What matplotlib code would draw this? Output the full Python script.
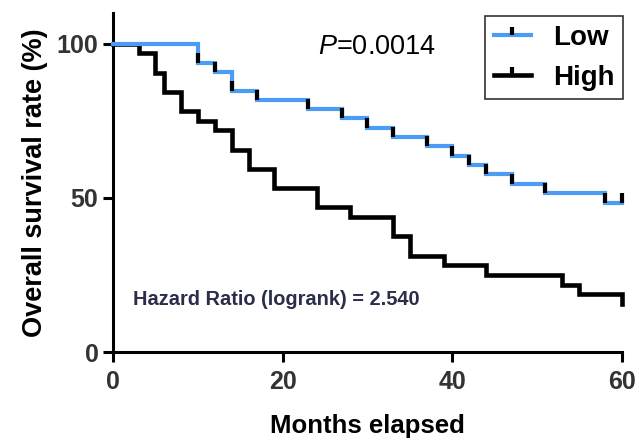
import matplotlib
matplotlib.use('Agg')
import matplotlib.pyplot as plt
from matplotlib.path import Path
from matplotlib.lines import Line2D

plt.rcParams['font.family'] = ['Liberation Sans', 'DejaVu Sans']
plt.rcParams['mathtext.fontset'] = 'custom'
plt.rcParams['mathtext.it'] = 'Liberation Sans:italic'
plt.rcParams['mathtext.rm'] = 'Liberation Sans'

# curvas de sobrevida (Kaplan-Meier)
low_months = [0, 10, 12, 14, 17, 23, 27, 30, 33, 37, 40, 42, 44, 47, 51, 58, 60]
low_surv = [100, 93.9, 90.9, 84.8, 81.8, 78.8, 75.8, 72.7, 69.7, 66.7, 63.6, 60.6,
            57.6, 54.5, 51.5, 48.5, 48.5]
high_months = [0, 3, 5, 6, 8, 10, 12, 14, 16, 19, 24, 28, 33, 35, 39, 44, 53, 55, 60]
high_surv = [100, 96.9, 90.6, 84.4, 78.1, 75.0, 71.9, 65.6, 59.4, 53.1, 46.9, 43.8,
             37.5, 31.3, 28.1, 25.0, 21.9, 18.8, 15.6]

x_ticks = [0, 20, 40, 60]
y_ticks = [0, 50, 100]

blue = '#4b9cf2'
navy = '#2b2d4a'
tick_gray = '#333333'

# marcador de censura: tracinho vertical para cima
censor = Path([(0, 0), (0, 1)], [Path.MOVETO, Path.LINETO])

fig = plt.figure(figsize=(6.39, 4.4), dpi=100)
ax = fig.add_axes([0.177, 0.2, 0.796, 0.7705])

ax.step(high_months, high_surv, where='post', color='black', linewidth=3.3,
        solid_joinstyle='miter', clip_on=False, zorder=3)
ax.step(low_months, low_surv, where='post', color=blue, linewidth=3.0,
        solid_joinstyle='miter', clip_on=False, zorder=4)
ax.plot(low_months[1:], low_surv[1:], linestyle='none', marker=censor,
        markersize=14, markeredgewidth=3.0, color='black', clip_on=False, zorder=5)

ax.set_xlim(0, 60)
ax.set_ylim(0, 110)
ax.set_xticks(x_ticks)
ax.set_yticks(y_ticks)
ax.spines['top'].set_visible(False)
ax.spines['right'].set_visible(False)
for s in ['left', 'bottom']:
    ax.spines[s].set_linewidth(2.2)
ax.tick_params(axis='both', direction='out', length=7, width=2.2,
               labelsize=18, labelcolor=tick_gray)
ax.tick_params(axis='x', pad=6)
for lab in ax.get_xticklabels() + ax.get_yticklabels():
    lab.set_fontweight('bold')

ax.set_xlabel('Months elapsed', fontsize=18.5, fontweight='bold', labelpad=14)
ax.set_ylabel('Overall survival rate (%)', fontsize=19.5, fontweight='bold', labelpad=6)

ax.text(24.2, 99, r'$P$=0.0014', fontsize=19.5, ha='left', va='center', color='black')
ax.text(2.4, 17, 'Hazard Ratio (logrank) = 2.540', fontsize=14.4, fontweight='bold',
        ha='left', va='center', color=navy)

handles = [Line2D([], [], color=blue, linewidth=3.0, marker=censor, markersize=11,
                  markeredgewidth=3.0, markeredgecolor='black'),
           Line2D([], [], color='black', linewidth=3.3, marker=censor, markersize=11,
                  markeredgewidth=3.0, markeredgecolor='black')]
leg = ax.legend(handles, ['Low', 'High'], loc='upper right', bbox_to_anchor=(1.003, 0.99),
                prop={'size': 20, 'weight': 'bold'}, frameon=True, fancybox=False,
                handlelength=1.35, handletextpad=0.8, borderpad=0.3, labelspacing=0.5,
                borderaxespad=0.0)
leg.get_frame().set_edgecolor('black')
leg.get_frame().set_linewidth(1.2)

plt.savefig('out.png', dpi=100)
